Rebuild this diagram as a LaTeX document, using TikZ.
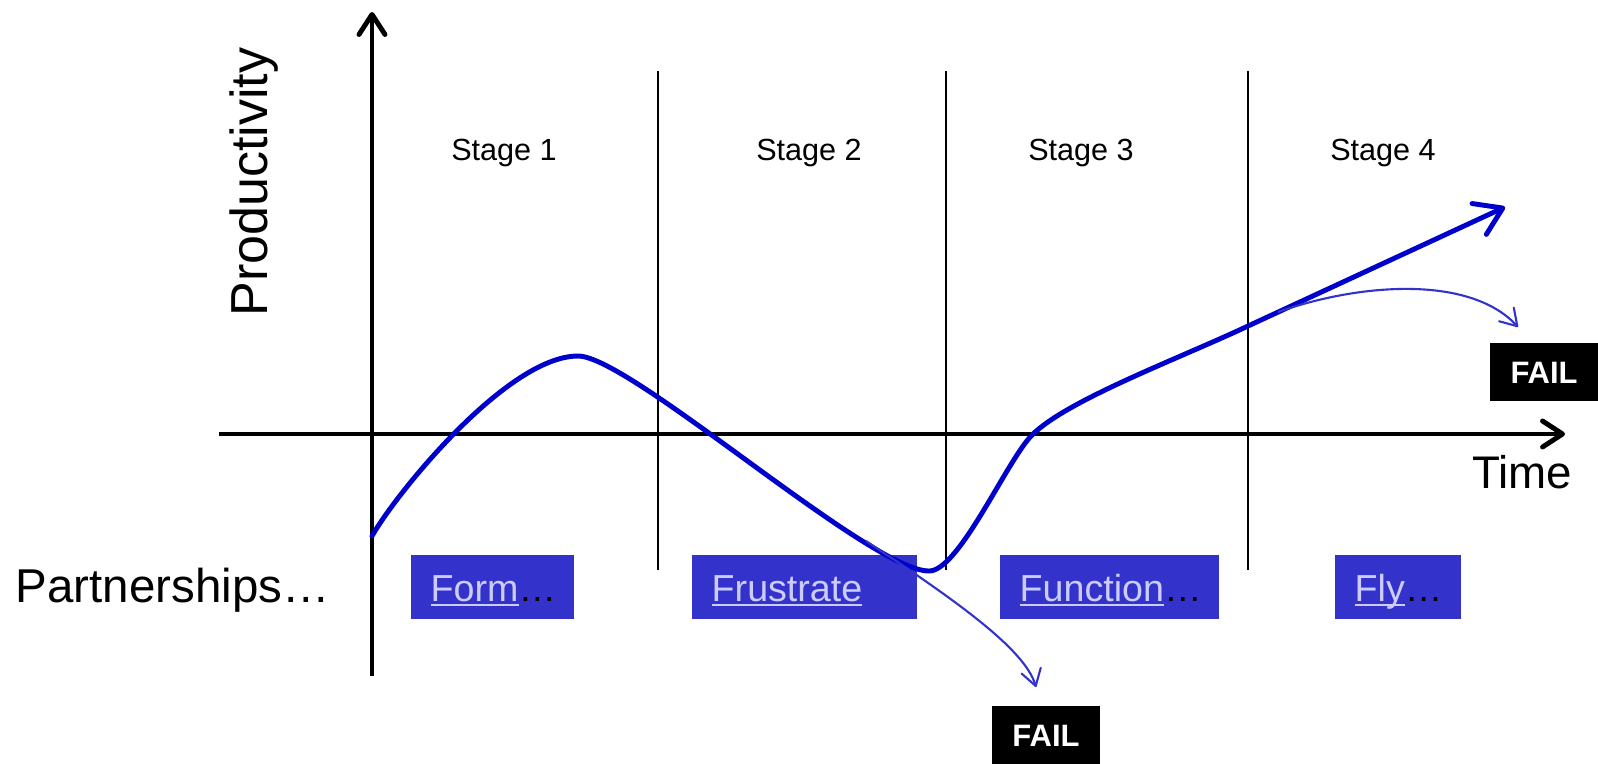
\documentclass[tikz,border=0pt]{standalone}
\usepackage{fontspec}
\setmainfont{Liberation Sans}
\usetikzlibrary{arrows.meta}
\definecolor{curveblue}{HTML}{0000CC}
\definecolor{boxblue}{HTML}{3333CC}
\definecolor{linkfg}{HTML}{CCCCFF}
\newcommand{\lnk}[1]{{\color{linkfg}\setbox0\hbox{#1}\rlap{\rule[-1.3pt]{\wd0}{0.5pt}}\box0}}

\begin{document}
\begin{tikzpicture}[x=0.01cm, y=-0.01cm,
        axis/.style={line width=1.4pt, -{Straight Barb[length=2mm, width=2.6mm, round]}},
        divider/.style={line width=0.6pt},
        stagelabel/.style={anchor=base, font=\fontsize{8.7}{10}\selectfont},
        biglabel/.style={anchor=base, inner sep=0pt, font=\fontsize{13}{15}\selectfont},
        phasebox/.style={fill=boxblue, anchor=west, minimum height=0.64cm, inner xsep=0.2cm, inner ysep=0pt, align=left, text height=0.28cm, text depth=0pt, font=\fontsize{10.7}{12}\selectfont},
        failbox/.style={fill=black, text=white, minimum width=1.08cm, minimum height=0.58cm, inner sep=0pt, text height=0.22cm, text depth=0pt, font=\bfseries\fontsize{8.8}{10}\selectfont},
        trend/.style={curveblue, line width=1.4pt, line cap=round, -{Straight Barb[length=2.6mm, width=3.4mm, round]}},
        branch/.style={boxblue, line width=0.6pt, -{Straight Barb[length=1.6mm, width=2mm, round]}}
    ]
    \useasboundingbox (0,0) rectangle (1598,763);

    % stage dividers and titles
    \foreach \x in {658, 946, 1248}
        \draw[divider] (\x,71) -- (\x,570);
    \node[stagelabel] (stage1) at (504,160) {Stage 1};
    \node[stagelabel] (stage2) at (809,160) {Stage 2};
    \node[stagelabel] (stage3) at (1081,160) {Stage 3};
    \node[stagelabel] (stage4) at (1383,160) {Stage 4};

    % axes
    \coordinate (ybot) at (372,676);
    \coordinate (ytop) at (372,12);
    \coordinate (xleft) at (219,434);
    \coordinate (xright) at (1565,434);
    \draw[axis] (ybot) -- (ytop);
    \draw[axis] (xleft) -- (xright);
    \node[biglabel, rotate=90, font=\fontsize{14.8}{17}\selectfont] (ylabel) at (267,182) {Productivity};
    \node[biglabel] (xlabel) at (1522,488) {Time};

    % partnership phases
    \node[biglabel, anchor=base west, font=\fontsize{13.5}{15}\selectfont] (partners) at (15,602) {Partnerships…};
    \node[phasebox, text width=1.23cm] (form) at (410,587) {\lnk{Form}…};
    \node[phasebox, text width=1.85cm] (frustrate) at (691,587) {\lnk{Frustrate}};
    \node[phasebox, text width=1.79cm] (function) at (999,587) {\lnk{Function}…};
    \node[phasebox, text width=0.86cm] (fly) at (1334,587) {\lnk{Fly}…};

    \node[failbox] (failmid) at (1046,735) {FAIL};
    \node[failbox] (failtop) at (1544,372) {FAIL};

    % productivity curve
    \coordinate (start) at (372,536);
    \coordinate (peak) at (578,356);
    \coordinate (trough) at (929,571);
    \coordinate (rise) at (1032,435);
    \coordinate (bend) at (1248,326);
    \coordinate (tip) at (1505,207);
    \draw[trend] (start) .. controls (397,492) and (508,356) .. (peak)
        .. controls (630,356) and (870,571) .. (trough)
        .. controls (959,571) and (1007,460) .. (rise)
        .. controls (1067,400) and (1178,359) .. (bend) -- (tip);

    % failing branches
    \coordinate (split1) at (866,541);
    \coordinate (drop1) at (1036,687);
    \coordinate (split2) at (1278,312);
    \coordinate (drop2) at (1518,327);
    \draw[branch] (split1) .. controls (960,603) and (1025,650) .. (drop1);
    \draw[branch] (split2) .. controls (1360,283) and (1470,275) .. (drop2);
\end{tikzpicture}
\end{document}
